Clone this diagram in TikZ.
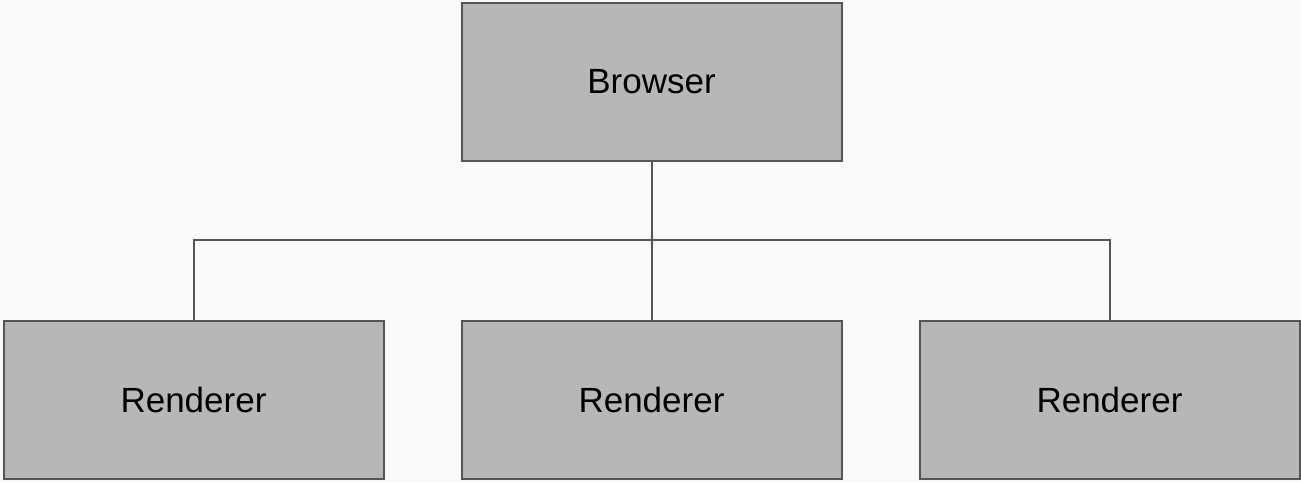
\documentclass[tikz,border=0pt]{standalone}
\usepackage{fontspec}
\setmainfont{Liberation Sans}
\definecolor{bg}{HTML}{F9F9F9}
\definecolor{boxfill}{HTML}{B7B7B7}
\definecolor{edge}{HTML}{555555}
\begin{document}
\begin{tikzpicture}[x=1pt,y=-1pt,
  procbox/.style={draw=edge, line width=2pt, fill=boxfill, minimum width=380pt, minimum height=158pt, inner sep=0pt, font=\fontsize{35}{41}\selectfont},
  link/.style={draw=edge, line width=2pt}]
\fill[bg] (0,0) rectangle (1301,482);
\useasboundingbox (0,0) rectangle (1301,482);
\node[procbox] (browser) at (651.5,81.5) {Browser};
\node[procbox] (r1) at (193.5,399.5) {Renderer};
\node[procbox] (r2) at (651.5,399.5) {Renderer};
\node[procbox] (r3) at (1109.5,399.5) {Renderer};
\coordinate (j) at (651.5,240);
\draw[link] (browser.south) -- (r2.north);
\draw[link] (r1.north) |- (j) -| (r3.north);
\end{tikzpicture}
\end{document}
